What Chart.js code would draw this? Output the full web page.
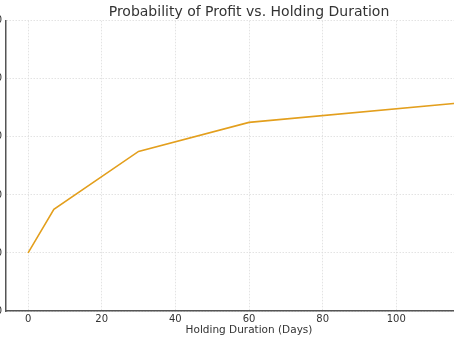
<!DOCTYPE html>
<html>
<head>
<meta charset="utf-8">
<script src="https://cdn.jsdelivr.net/npm/chart.js@4.4.1/dist/chart.umd.min.js"></script>
<style>
  html, body { margin: 0; padding: 0; background: #fff; overflow: hidden; }
  #wrap { position: absolute; left: -17px; top: 0; width: 532px; height: 341px; }
</style>
</head>
<body>
<div id="wrap"><canvas id="profit-chart"></canvas></div>
<script>
// data
const holdingDays = [0, 7, 30, 60, 120];
const profitProb = [20, 35, 55, 65, 72];
const xTicks = [0, 20, 40, 60, 80, 100, 120];
const yTicks = [0, 20, 40, 60, 80, 100];

const gridColor = '#dcdcdc';
const spineColor = '#555555';
const textColor = '#333333';
const font = 'DejaVu Sans';

const ctx = document.getElementById('profit-chart').getContext('2d');
new Chart(ctx, {
    type: 'line',
    data: {
        datasets: [{
            label: 'Probability of Profit',
            data: holdingDays.map((d, i) => ({ x: d, y: profitProb[i] })),
            borderColor: '#e39f1d',
            borderWidth: 1.6,
            pointRadius: 0,
            fill: false,
            tension: 0
        }]
    },
    options: {
        responsive: true,
        maintainAspectRatio: false,
        animation: false,
        layout: { padding: { left: 0, right: 0, top: 0, bottom: 0 } },
        plugins: {
            legend: { display: false },
            tooltip: { enabled: false },
            title: {
                display: true,
                text: 'Probability of Profit vs. Holding Duration',
                color: textColor,
                font: { family: font, size: 14, weight: 'normal' },
                padding: { top: 4, bottom: 0 }
            }
        },
        scales: {
            x: {
                type: 'linear',
                min: -6,
                max: 126,
                afterFit: (axis) => { axis.height = 30; },
                afterBuildTicks: (axis) => { axis.ticks = xTicks.map(v => ({ value: v })); },
                ticks: {
                    color: textColor,
                    font: { family: font, size: 10 },
                    padding: 2
                },
                grid: { color: gridColor, lineWidth: 0.8, drawTicks: false },
                border: { color: spineColor, width: 1.5, dash: [1.5, 1.5] },
                title: {
                    display: true,
                    text: 'Holding Duration (Days)',
                    color: textColor,
                    font: { family: font, size: 10.5 },
                    padding: { top: 0, bottom: 4 }
                }
            },
            y: {
                min: 0,
                max: 100,
                afterFit: (axis) => { axis.width = 23; },
                afterBuildTicks: (axis) => { axis.ticks = yTicks.map(v => ({ value: v })); },
                ticks: {
                    color: textColor,
                    font: { family: font, size: 10 },
                    padding: 4
                },
                grid: { color: gridColor, lineWidth: 0.8, drawTicks: false },
                border: { color: spineColor, width: 1.5, dash: [1.5, 1.5] }
            },
            // empty right axis, only balances the left one so the title centres on the plot
            yRight: {
                position: 'right',
                min: 0,
                max: 100,
                afterFit: (axis) => { axis.width = 23; },
                ticks: { display: false },
                grid: { display: false, drawTicks: false },
                border: { display: false }
            }
        }
    }
});
</script>
</body>
</html>
